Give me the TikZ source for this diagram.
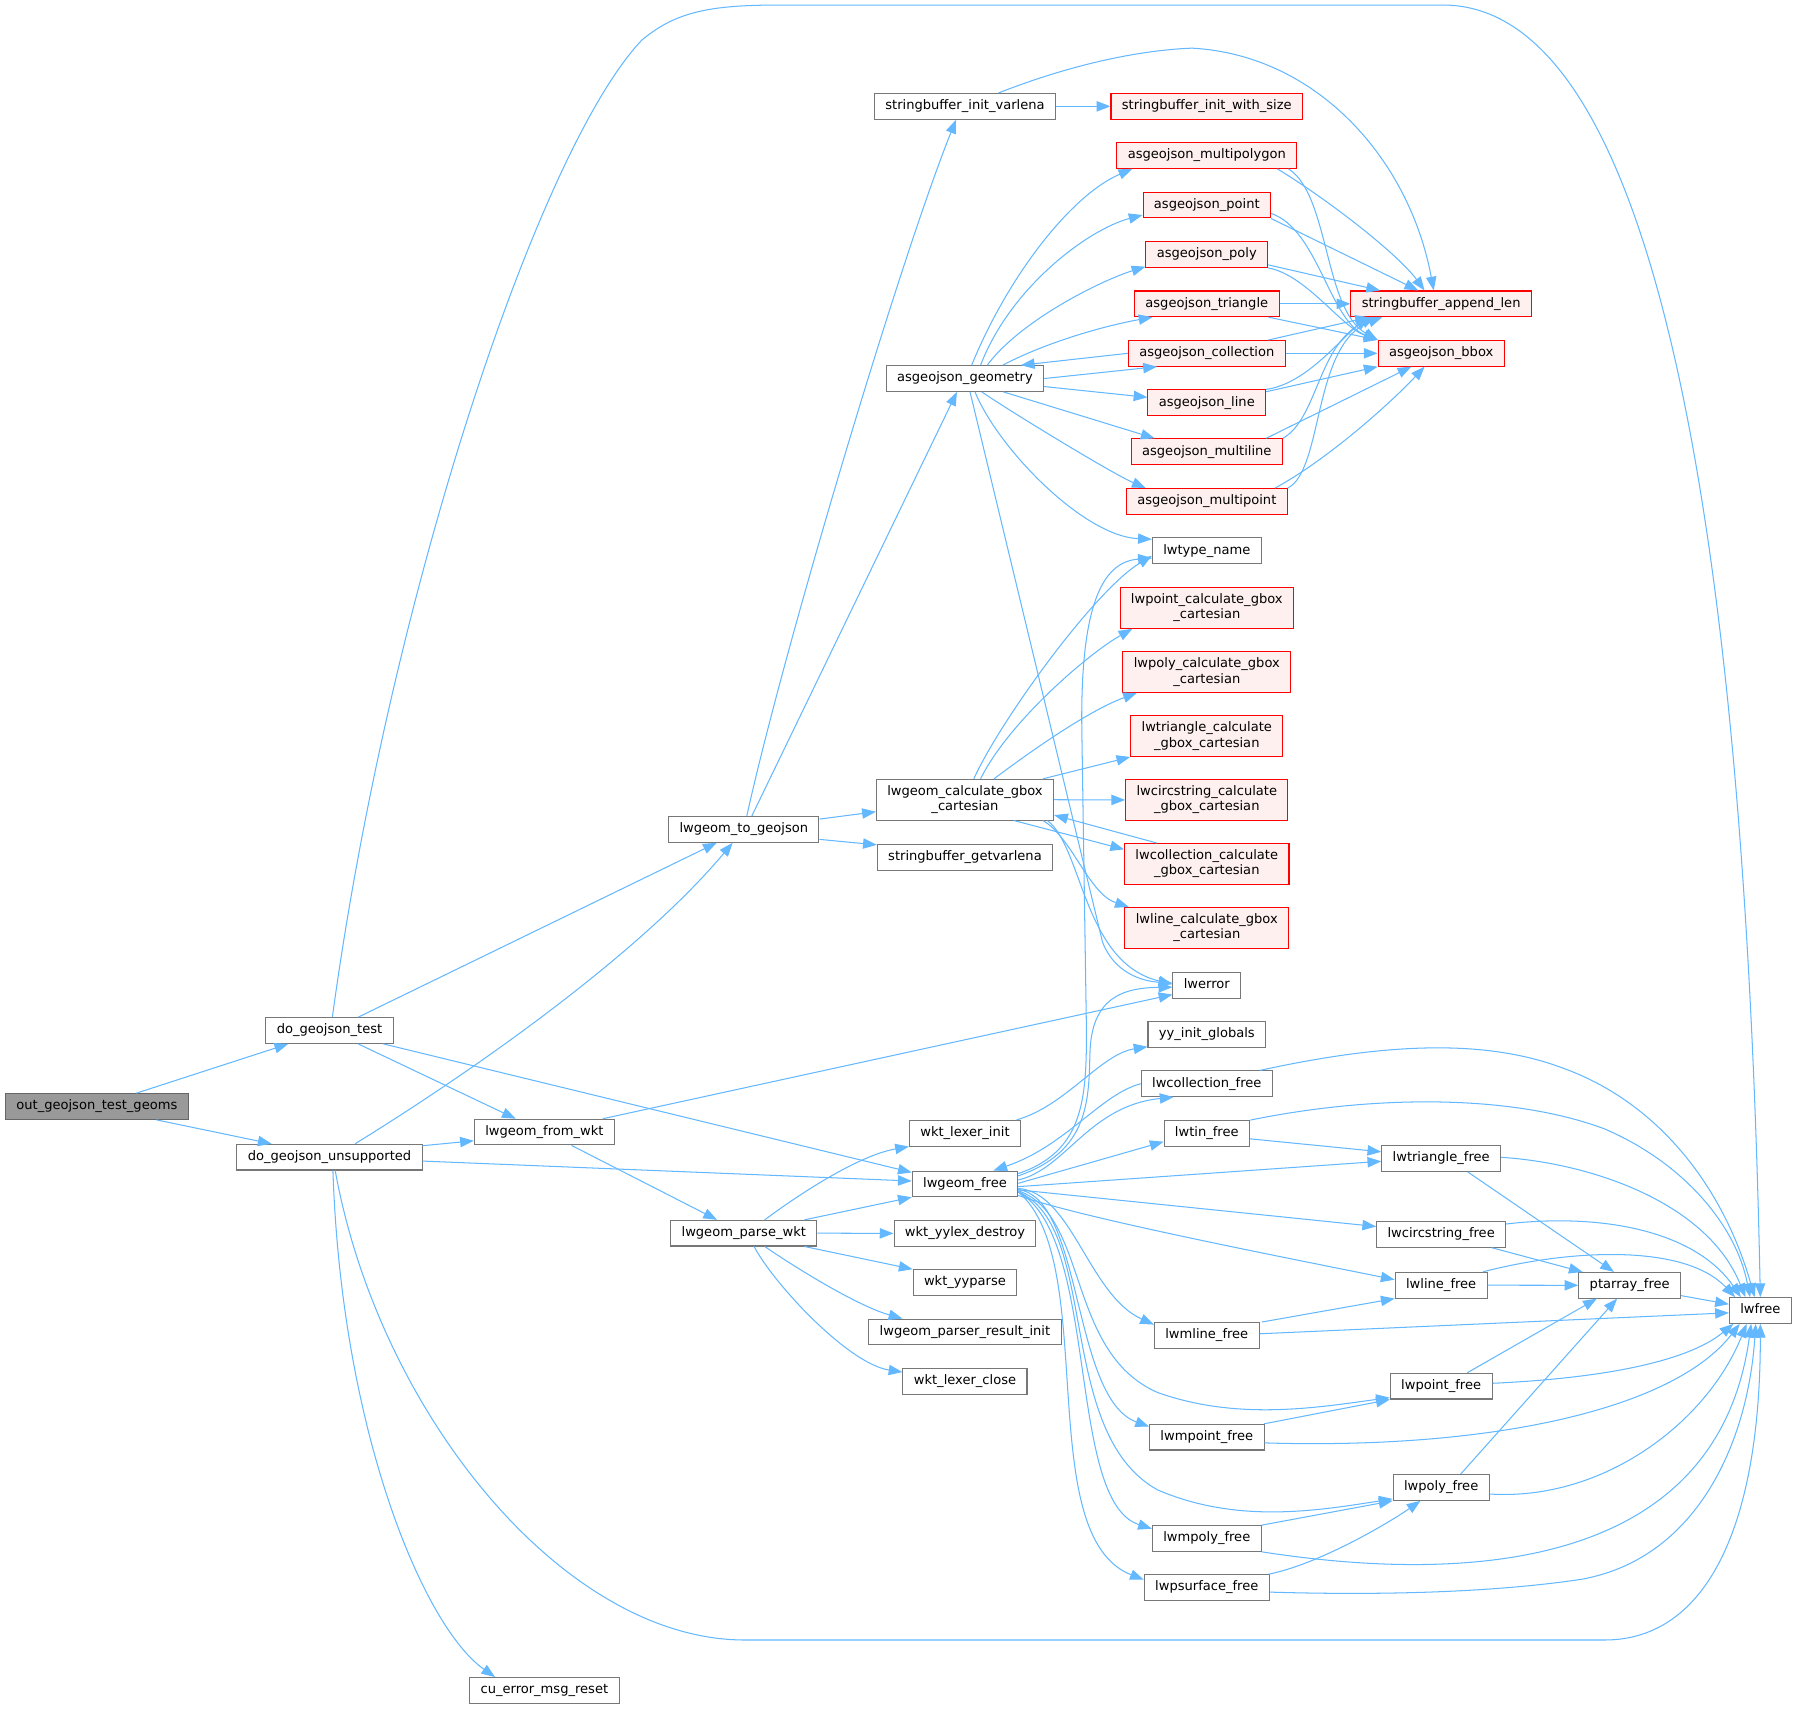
\documentclass[tikz,border=0pt]{standalone}
\usepackage{fontspec}
\setmainfont{DejaVu Sans}
\usetikzlibrary{arrows.meta}
\definecolor{edgec}{HTML}{63B8FF}
\definecolor{grayborder}{HTML}{777777}
\definecolor{rootborder}{HTML}{666666}
\definecolor{rootfill}{HTML}{999999}
\definecolor{redfill}{HTML}{FFF0F0}
\newcommand{\nodefont}{\fontsize{11.4}{13.2}\selectfont}
\begin{document}
\begin{tikzpicture}[x=1pt,y=-1pt,
  fn/.style={draw=grayborder, fill=white, line width=0.9pt, inner xsep=9.5pt, inner ysep=0pt, minimum height=22.4pt, text height=8.4pt, text depth=2.4pt, font=\nodefont},
  fntwo/.style={draw=grayborder, fill=white, line width=0.9pt, inner xsep=9.5pt, inner ysep=0pt, minimum height=35.5pt, align=center, font=\nodefont},
  rn/.style={fn, draw=red, fill=redfill},
  rntwo/.style={fntwo, draw=red, fill=redfill},
  root/.style={fn, draw=rootborder, fill=rootfill},
  ed/.style={draw=edgec, line width=0.9pt, -{Triangle[length=12pt,width=9pt]}}]
\fill[white] (0,0) rectangle (1568,1491);
\useasboundingbox (0,0) rectangle (1568,1491);
% nodes
\node[root] (O) at (84.5,965.5) {out\_geojson\_test\_geoms};
\node[fn] (DT) at (287.5,899.2) {do\_geojson\_test};
\node[fn] (DU) at (287.5,1009.7) {do\_geojson\_unsupported};
\node[fn] (FW) at (475,987.8) {lwgeom\_from\_wkt};
\node[fn] (CU) at (475,1475) {cu\_error\_msg\_reset};
\node[fn] (TG) at (649,723.7) {lwgeom\_to\_geojson};
\node[fn] (PW) at (649,1076) {lwgeom\_parse\_wkt};
\node[fn] (SIV) at (842,92.8) {stringbuffer\_init\_varlena};
\node[fn] (AG) at (842,330.3) {asgeojson\_geometry};
\node[fntwo] (LC) at (842,697.8) {lwgeom\_calculate\_gbox\\\_cartesian};
\node[fn] (SG) at (842,748.2) {stringbuffer\_getvarlena};
\node[fn] (WLI) at (842,988.8) {wkt\_lexer\_init};
\node[fn] (LF) at (842,1033) {lwgeom\_free};
\node[fn] (WYD) at (842,1076.2) {wkt\_yylex\_destroy};
\node[fn] (WYP) at (842,1119.1) {wkt\_yyparse};
\node[fn] (LPRI) at (842,1162.2) {lwgeom\_parser\_result\_init};
\node[fn] (WLC) at (842,1205.2) {wkt\_lexer\_close};
\node[rn] (SIWS) at (1053,92.8) {stringbuffer\_init\_with\_size};
\node[rn] (AMPG) at (1053,135.7) {asgeojson\_multipolygon};
\node[rn] (APT) at (1053,179) {asgeojson\_point};
\node[rn] (APOLY) at (1053,222.1) {asgeojson\_poly};
\node[rn] (ATRI) at (1053,265.1) {asgeojson\_triangle};
\node[rn] (ACOL) at (1053,308.3) {asgeojson\_collection};
\node[rn] (ALINE) at (1053,351.4) {asgeojson\_line};
\node[rn] (AML) at (1053,394.1) {asgeojson\_multiline};
\node[rn] (AMP) at (1053,437.5) {asgeojson\_multipoint};
\node[fn] (LTN) at (1053,480.5) {lwtype\_name};
\node[rntwo] (LPC) at (1053,530.5) {lwpoint\_calculate\_gbox\\\_cartesian};
\node[rntwo] (LPOC) at (1053,586.4) {lwpoly\_calculate\_gbox\\\_cartesian};
\node[rntwo] (LTC) at (1053,642.3) {lwtriangle\_calculate\\\_gbox\_cartesian};
\node[rntwo] (LCSC) at (1053,698) {lwcircstring\_calculate\\\_gbox\_cartesian};
\node[rntwo] (LCOC) at (1053,753.8) {lwcollection\_calculate\\\_gbox\_cartesian};
\node[rntwo] (LLC) at (1053,809.6) {lwline\_calculate\_gbox\\\_cartesian};
\node[fn] (LE) at (1053,859.8) {lwerror};
\node[fn] (YY) at (1053,902.5) {yy\_init\_globals};
\node[fn] (LCF) at (1053,945.6) {lwcollection\_free};
\node[fn] (LTF) at (1053,989) {lwtin\_free};
\node[fn] (LMLF) at (1053,1165.2) {lwmline\_free};
\node[fn] (LMPF) at (1053,1254) {lwmpoint\_free};
\node[fn] (LMPOF) at (1053,1342.4) {lwmpoly\_free};
\node[fn] (LPSF) at (1053,1385.2) {lwpsurface\_free};
\node[rn] (SAL) at (1257.5,265.1) {stringbuffer\_append\_len};
\node[rn] (AB) at (1257.5,308.3) {asgeojson\_bbox};
\node[fn] (LTRF) at (1257.5,1010.8) {lwtriangle\_free};
\node[fn] (LCSF) at (1257.5,1077) {lwcircstring\_free};
\node[fn] (LLF) at (1257.5,1121.4) {lwline\_free};
\node[fn] (LPTF) at (1257.5,1209.5) {lwpoint\_free};
\node[fn] (LPLF) at (1257.5,1297.9) {lwpoly\_free};
\node[fn] (PAF) at (1422,1121.5) {ptarray\_free};
\node[fn] (LWF) at (1536,1143.5) {lwfree};
% root edges
\draw[ed] ([shift={(34.5,0)}]O.north) -- ([shift={(-36,0)}]DT.south);
\draw[ed] ([shift={(52,0)}]O.south) -- ([shift={(-50.5,0)}]DU.north);
% do_geojson_test
\draw[ed] ([shift={(2.5,0)}]DT.north) .. controls (340,520) and (470,130) .. (560,35) .. controls (590,10) and (620,4.4) .. (680,4.4) -- (1259,4.4) .. controls (1420,4.4) and (1520,350) .. (LWF.north);
\draw[ed] ([shift={(25,0)}]DT.north) -- ([shift={(-23.6,0)}]TG.south);
\draw[ed] ([shift={(25,0)}]DT.south) -- ([shift={(-25,0)}]FW.north);
\draw[ed] ([shift={(47,0)}]DT.south) -- ([shift={(0,-10)}]LF.west);
% do_geojson_unsupported
\draw[ed] ([shift={(22.3,0)}]DU.north) .. controls (420,930) and (560,830) .. ([shift={(-9.7,0)}]TG.south);
\draw[ed] ([shift={(0,-10)}]DU.east) -- ([shift={(0,7.6)}]FW.west);
\draw[ed] ([shift={(0,3.4)}]DU.east) -- ([shift={(0,-2.5)}]LF.west);
\draw[ed] ([shift={(3,0)}]DU.south) .. controls (298,1250) and (370,1420) .. ([shift={(-43,0)}]CU.north);
\draw[ed] ([shift={(5,0)}]DU.south) .. controls (330,1230) and (490,1431) .. (650,1431) -- (1400,1431) .. controls (1490,1431) and (1536,1330) .. (LWF.south);
% lwgeom_from_wkt
\draw[ed] ([shift={(51,0)}]FW.north) -- ([shift={(0,8)}]LE.west);
\draw[ed] ([shift={(23.7,0)}]FW.south) -- ([shift={(-23.3,0)}]PW.north);
% lwgeom_to_geojson
\draw[ed] ([shift={(2.6,0)}]TG.north) .. controls (684.6,562.7) and (786.2,224) .. ([shift={(-7.8,0)}]SIV.south);
\draw[ed] ([shift={(7,0)}]TG.north) -- ([shift={(-7,0)}]AG.south);
\draw[ed] ([shift={(0,-9)}]TG.east) -- ([shift={(0,10.5)}]LC.west);
\draw[ed] ([shift={(0,8.7)}]TG.east) -- ([shift={(0,-11)}]SG.west);
% stringbuffer_init_varlena
\draw[ed] (SIV.east) -- (SIWS.west);
\draw[ed] ([shift={(29.2,0)}]SIV.north) .. controls (930,58) and (990,44) .. (1040,42) .. controls (1150,48) and (1230,140) .. ([shift={(-6.5,0)}]SAL.north);
% asgeojson_geometry
\draw[ed] ([shift={(5.8,0)}]AG.north) .. controls (880,240) and (935,170) .. ([shift={(-65,0)}]AMPG.south);
\draw[ed] ([shift={(13.6,0)}]AG.north) .. controls (882,250) and (950,200) .. ([shift={(0,8.6)}]APT.west);
\draw[ed] ([shift={(19.4,0)}]AG.north) .. controls (890,280) and (960,245) .. ([shift={(0,10.6)}]APOLY.west);
\draw[ed] ([shift={(33,0)}]AG.north) .. controls (910,300) and (960,285) .. ([shift={(-47.4,0)}]ATRI.south);
\draw[ed] (AG.east) -- ([shift={(-43.5,0)}]ACOL.south);
\draw[ed] (ACOL.west) -- ([shift={(48.7,0)}]AG.north);
\draw[ed] ([shift={(0,7)}]AG.east) -- ([shift={(0,-4.7)}]ALINE.west);
\draw[ed] ([shift={(33.5,0)}]AG.south) -- ([shift={(-45.5,0)}]AML.north);
\draw[ed] ([shift={(14.6,0)}]AG.south) .. controls (880,358) and (970,413) .. ([shift={(-53.3,0)}]AMP.north);
\draw[ed] ([shift={(8.8,0)}]AG.south) .. controls (870,390) and (945,468) .. ([shift={(0,-10)}]LTN.west);
\draw[ed] ([shift={(4.4,0)}]AG.south) -- (962,822) .. controls (972,848) and (995,856) .. ([shift={(0,-2)}]LE.west);
% asgeojson_* to stringbuffer_append_len / asgeojson_bbox
\draw[ed] ([shift={(61.6,0)}]AMPG.south) .. controls (1160,175) and (1220,222) .. ([shift={(-14.5,0)}]SAL.north);
\draw[ed] ([shift={(71.3,0)}]AMPG.south) .. controls (1160,170) and (1155,270) .. (AB.north west);
\draw[ed] (APT.south east) -- ([shift={(-20,0)}]SAL.north);
\draw[ed] ([shift={(0,7.2)}]APT.east) .. controls (1150,200) and (1160,280) .. (AB.north west);
\draw[ed] ([shift={(0,9)}]APOLY.east) -- ([shift={(-53.3,0)}]SAL.north);
\draw[ed] (APOLY.south east) .. controls (1140,240) and (1170,285) .. (AB.north west);
\draw[ed] (ATRI.east) -- (SAL.west);
\draw[ed] ([shift={(53.8,0)}]ATRI.south) -- (AB.north west);
\draw[ed] ([shift={(53.8,0)}]ACOL.north) -- ([shift={(-63,0)}]SAL.south);
\draw[ed] (ACOL.east) -- (AB.west);
\draw[ed] (ALINE.north east) .. controls (1140,335) and (1170,295) .. ([shift={(-63,0)}]SAL.south);
\draw[ed] ([shift={(0,-9.6)}]ALINE.east) -- (AB.south west);
\draw[ed] (AML.north east) .. controls (1150,365) and (1150,300) .. ([shift={(-57.5,0)}]SAL.south);
\draw[ed] ([shift={(51.8,0)}]AML.north) -- ([shift={(-26,0)}]AB.south);
\draw[ed] (AMP.north east) .. controls (1155,410) and (1145,300) .. ([shift={(-51.5,0)}]SAL.south);
\draw[ed] ([shift={(59.6,0)}]AMP.north) .. controls (1160,400) and (1215,350) .. ([shift={(-14.5,0)}]AB.south);
% lwgeom_calculate_gbox_cartesian
\draw[ed] ([shift={(7.7,0)}]LC.north) .. controls (872,630) and (955,515) .. ([shift={(0,4.5)}]LTN.west);
\draw[ed] ([shift={(13.6,0)}]LC.north) .. controls (880,630) and (950,570) .. ([shift={(-65,0)}]LPC.south);
\draw[ed] ([shift={(25.3,0)}]LC.north) .. controls (900,655) and (950,620) .. ([shift={(-61,0)}]LPOC.south);
\draw[ed] ([shift={(68,0)}]LC.north) -- (LTC.south west);
\draw[ed] (LC.east) -- (LCSC.west);
\draw[ed] ([shift={(-43.6,0)}]LCOC.north) -- ([shift={(0,13.4)}]LC.east);
\draw[ed] ([shift={(42.8,0)}]LC.south) -- ([shift={(0,-12.7)}]LCOC.west);
\draw[ed] ([shift={(68,0)}]LC.south) .. controls (935,730) and (950,780) .. ([shift={(-68,0)}]LLC.north);
\draw[ed] ([shift={(72,0)}]LC.south) .. controls (945,740) and (945,840) .. ([shift={(0,-1)}]LE.west);
% lwgeom_free
\draw[ed] ([shift={(0,-9)}]LF.east) .. controls (945,1005) and (948,960) .. (948,900) -- (944,640) .. controls (942,520) and (965,490) .. ([shift={(0,6.5)}]LTN.west);
\draw[ed] ([shift={(0,-7)}]LF.east) .. controls (950,1005) and (950,960) .. (951,920) .. controls (952,870) and (980,862) .. ([shift={(0,1.5)}]LE.west);
\draw[ed] (LCF.west) .. controls (960,955) and (930,1000) .. ([shift={(24.8,0)}]LF.north);
\draw[ed] ([shift={(0,-3.4)}]LF.east) .. controls (930,1020) and (950,965) .. ([shift={(-29,0)}]LCF.south);
\draw[ed] ([shift={(0,-0.5)}]LF.east) -- ([shift={(0,7.2)}]LTF.west);
\draw[ed] ([shift={(0,2.4)}]LF.east) -- ([shift={(0,2.5)}]LTRF.west);
\draw[ed] ([shift={(0,5.2)}]LF.east) -- ([shift={(0,-6.8)}]LCSF.west);
\draw[ed] ([shift={(0,10)}]LF.east) .. controls (940,1062) and (1120,1097) .. ([shift={(0,-4.8)}]LLF.west);
\draw[ed] ([shift={(0,4)}]LF.east) .. controls (935,1040) and (950,1130) .. ([shift={(0,-9.4)}]LMLF.west);
\draw[ed] ([shift={(0,6)}]LF.east) .. controls (950,1060) and (930,1180) .. (1010,1215) .. controls (1080,1240) and (1150,1228) .. ([shift={(0,10)}]LPTF.west);
\draw[ed] ([shift={(0,5)}]LF.east) .. controls (945,1045) and (935,1220) .. ([shift={(0,-9.2)}]LMPF.west);
\draw[ed] ([shift={(0,7)}]LF.east) .. controls (960,1070) and (920,1250) .. (1010,1300) .. controls (1080,1330) and (1150,1318) .. ([shift={(0,10)}]LPLF.west);
\draw[ed] ([shift={(0,7)}]LF.east) .. controls (960,1080) and (930,1310) .. ([shift={(0,-8.5)}]LMPOF.west);
\draw[ed] ([shift={(0,7)}]LF.east) .. controls (960,1100) and (900,1340) .. ([shift={(0,-6.8)}]LPSF.west);
% wkt_lexer_init, lwgeom_parse_wkt
\draw[ed] ([shift={(45,0)}]WLI.north) .. controls (930,965) and (960,920) .. ([shift={(0,10.8)}]YY.west);
\draw[ed] ([shift={(18.3,0)}]PW.north) .. controls (700,1040) and (750,1008) .. (WLI.south west);
\draw[ed] ([shift={(53,0)}]PW.north) -- (LF.south west);
\draw[ed] (PW.east) -- (WYD.west);
\draw[ed] ([shift={(53,0)}]PW.south) -- (WYP.north west);
\draw[ed] ([shift={(18.3,0)}]PW.south) .. controls (700,1110) and (750,1140) .. ([shift={(-54.6,0)}]LPRI.north);
\draw[ed] ([shift={(9,0)}]PW.south) .. controls (675,1120) and (740,1190) .. ([shift={(0,-8)}]WLC.west);
% right side
\draw[ed] ([shift={(46.5,0)}]LCF.north) .. controls (1200,912) and (1290,905) .. (1361,931) .. controls (1450,962) and (1505,1040) .. ([shift={(-5,0)}]LWF.north);
\draw[ed] ([shift={(38,0)}]LTF.north) .. controls (1200,955) and (1320,955) .. (1400,985) .. controls (1470,1015) and (1515,1070) .. ([shift={(-9,0)}]LWF.north);
\draw[ed] ([shift={(0,4.7)}]LTF.east) -- ([shift={(0,-5.8)}]LTRF.west);
\draw[ed] ([shift={(0,-1)}]LTRF.east) .. controls (1390,1015) and (1490,1050) .. ([shift={(-13,0)}]LWF.north);
\draw[ed] ([shift={(23,0)}]LTRF.south) -- ([shift={(-13.7,0)}]PAF.north);
\draw[ed] ([shift={(0,-9)}]LCSF.east) .. controls (1400,1058) and (1480,1075) .. ([shift={(-17,0)}]LWF.north);
\draw[ed] ([shift={(44,0)}]LCSF.south) -- ([shift={(-41,0)}]PAF.north);
\draw[ed] (LLF.east) -- (PAF.west);
\draw[ed] ([shift={(36.5,0)}]LLF.north) .. controls (1370,1090) and (1470,1085) .. ([shift={(-22,0)}]LWF.north);
\draw[ed] ([shift={(0,9)}]PAF.east) -- ([shift={(0,-5.5)}]LWF.west);
\draw[ed] ([shift={(48,0)}]LMLF.north) -- (LLF.south west);
\draw[ed] ([shift={(0,-1.4)}]LMLF.east) -- ([shift={(0,2)}]LWF.west);
\draw[ed] ([shift={(22.7,0)}]LPTF.north) -- ([shift={(-28.7,0)}]PAF.south);
\draw[ed] ([shift={(0,-2.5)}]LPTF.east) .. controls (1390,1203) and (1470,1190) .. ([shift={(-23.5,0)}]LWF.south);
\draw[ed] ([shift={(50,0)}]LMPF.north) -- (LPTF.south west);
\draw[ed] ([shift={(0,5)}]LMPF.east) .. controls (1300,1265) and (1460,1230) .. ([shift={(-18,0)}]LWF.south);
\draw[ed] ([shift={(17,0)}]LPLF.north) -- ([shift={(-11,0)}]PAF.south);
\draw[ed] ([shift={(0,5.7)}]LPLF.east) .. controls (1400,1310) and (1490,1240) .. ([shift={(-12,0)}]LWF.south);
\draw[ed] ([shift={(48,0)}]LMPOF.north) -- (LPLF.south west);
\draw[ed] (LMPOF.south east) .. controls (1300,1385) and (1500,1360) .. ([shift={(-8,0)}]LWF.south);
\draw[ed] ([shift={(54,0)}]LPSF.north) .. controls (1150,1365) and (1210,1330) .. ([shift={(-18,0)}]LPLF.south);
\draw[ed] ([shift={(0,4)}]LPSF.east) .. controls (1200,1392) and (1300,1390) .. (1380,1378) .. controls (1480,1360) and (1525,1260) .. ([shift={(-4,0)}]LWF.south);
\end{tikzpicture}
\end{document}
